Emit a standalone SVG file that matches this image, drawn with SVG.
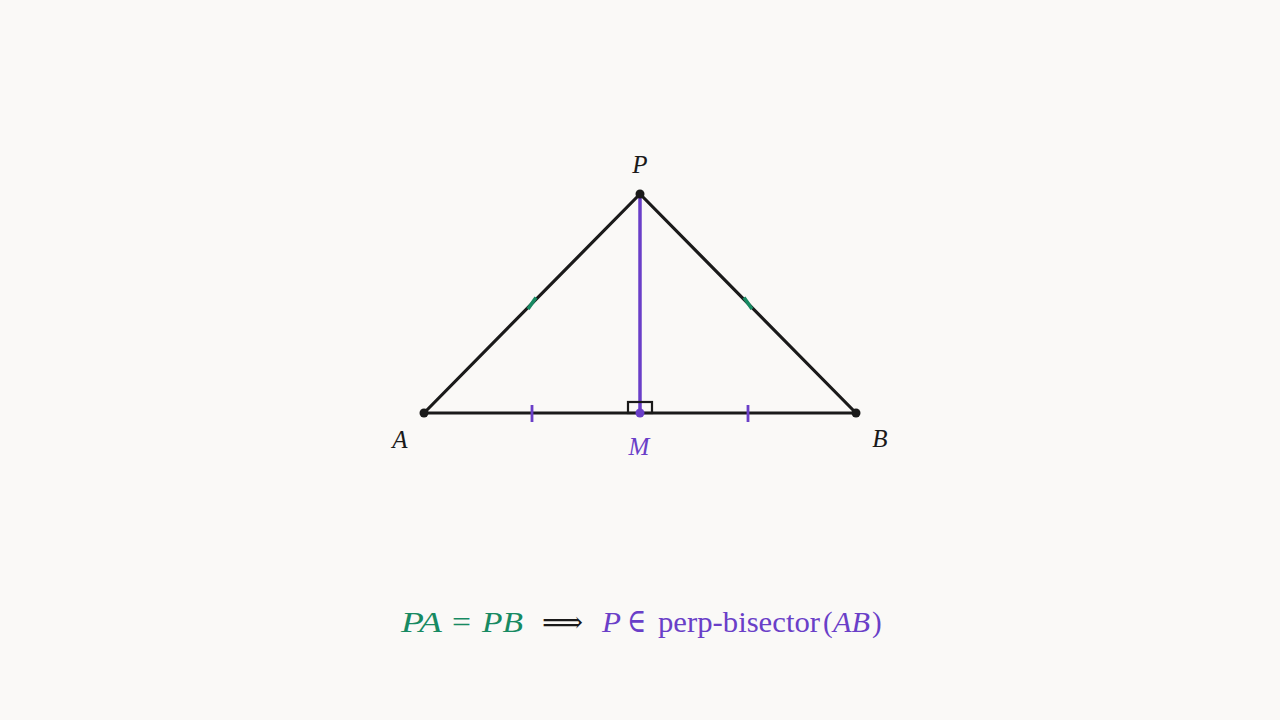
<svg xmlns="http://www.w3.org/2000/svg" width="1280" height="720" viewBox="0 0 1280 720">
<style>
.edge{stroke:#1a1a1a;stroke-width:3.2;stroke-linecap:round;fill:none}
.lbl{font-family:"Liberation Serif","DejaVu Serif",serif;font-style:italic;font-size:25px;fill:#1a1a1a}
.eq{font-family:"Liberation Serif","DejaVu Serif",serif;font-size:29px}
.it{font-style:italic}
.g{fill:#178a62}
.p{fill:#6a3fc8}
</style>
<rect width="1280" height="720" fill="#faf9f7"/>
<g id="connectors">
<line class="edge" x1="424" y1="413" x2="640" y2="194"/>
<line class="edge" x1="640" y1="194" x2="856" y2="413"/>
<line class="edge" x1="424" y1="413" x2="856" y2="413"/>
<line x1="640" y1="194" x2="640" y2="413" stroke="#6a3fc8" stroke-width="3.5"/>
<rect x="628" y="402" width="24" height="11" fill="none" stroke="#1a1a1a" stroke-width="2.2"/>
<line x1="532" y1="405" x2="532" y2="422" stroke="#6a3fc8" stroke-width="2.8"/>
<line x1="748" y1="405" x2="748" y2="422" stroke="#6a3fc8" stroke-width="2.8"/>
<line x1="528" y1="309" x2="536" y2="297.5" stroke="#178a62" stroke-width="3.6"/>
<line x1="744" y1="297.5" x2="752" y2="309" stroke="#178a62" stroke-width="3.6"/>
</g>
<g id="node-P">
<circle cx="640" cy="194" r="4.5" fill="#1a1a1a"/>
<text class="lbl" x="640" y="173" text-anchor="middle">P</text>
</g>
<g id="node-A">
<circle cx="424" cy="413" r="4.5" fill="#1a1a1a"/>
<text class="lbl" x="400" y="448" text-anchor="middle">A</text>
</g>
<g id="node-B">
<circle cx="856" cy="413" r="4.5" fill="#1a1a1a"/>
<text class="lbl" x="880" y="447" text-anchor="middle">B</text>
</g>
<g id="node-M">
<circle cx="640" cy="413" r="4.5" fill="#6a3fc8"/>
<text class="lbl p" x="639" y="455" text-anchor="middle">M</text>
</g>
<g id="formula">
<text class="eq g it" x="401" y="632" textLength="41" lengthAdjust="spacingAndGlyphs">PA</text>
<text class="eq g" x="452" y="632" textLength="19" lengthAdjust="spacingAndGlyphs">=</text>
<text class="eq g it" x="482" y="632" textLength="41" lengthAdjust="spacingAndGlyphs">PB</text>
<text class="eq" x="542" y="632" fill="#1a1a1a" textLength="41" lengthAdjust="spacingAndGlyphs">⟹</text>
<text class="eq p it" x="602" y="632" textLength="19" lengthAdjust="spacingAndGlyphs">P</text>
<text class="p" x="627" y="632" style="font-family:'DejaVu Serif',serif;font-size:34px" textLength="19" lengthAdjust="spacingAndGlyphs">∈</text>
<text class="eq p" x="658" y="632" textLength="162" lengthAdjust="spacingAndGlyphs">perp-bisector</text>
<text class="eq p" x="823" y="632">(</text>
<text class="eq p it" x="833" y="632" textLength="37" lengthAdjust="spacingAndGlyphs">AB</text>
<text class="eq p" x="872" y="632">)</text>
</g>
</svg>
